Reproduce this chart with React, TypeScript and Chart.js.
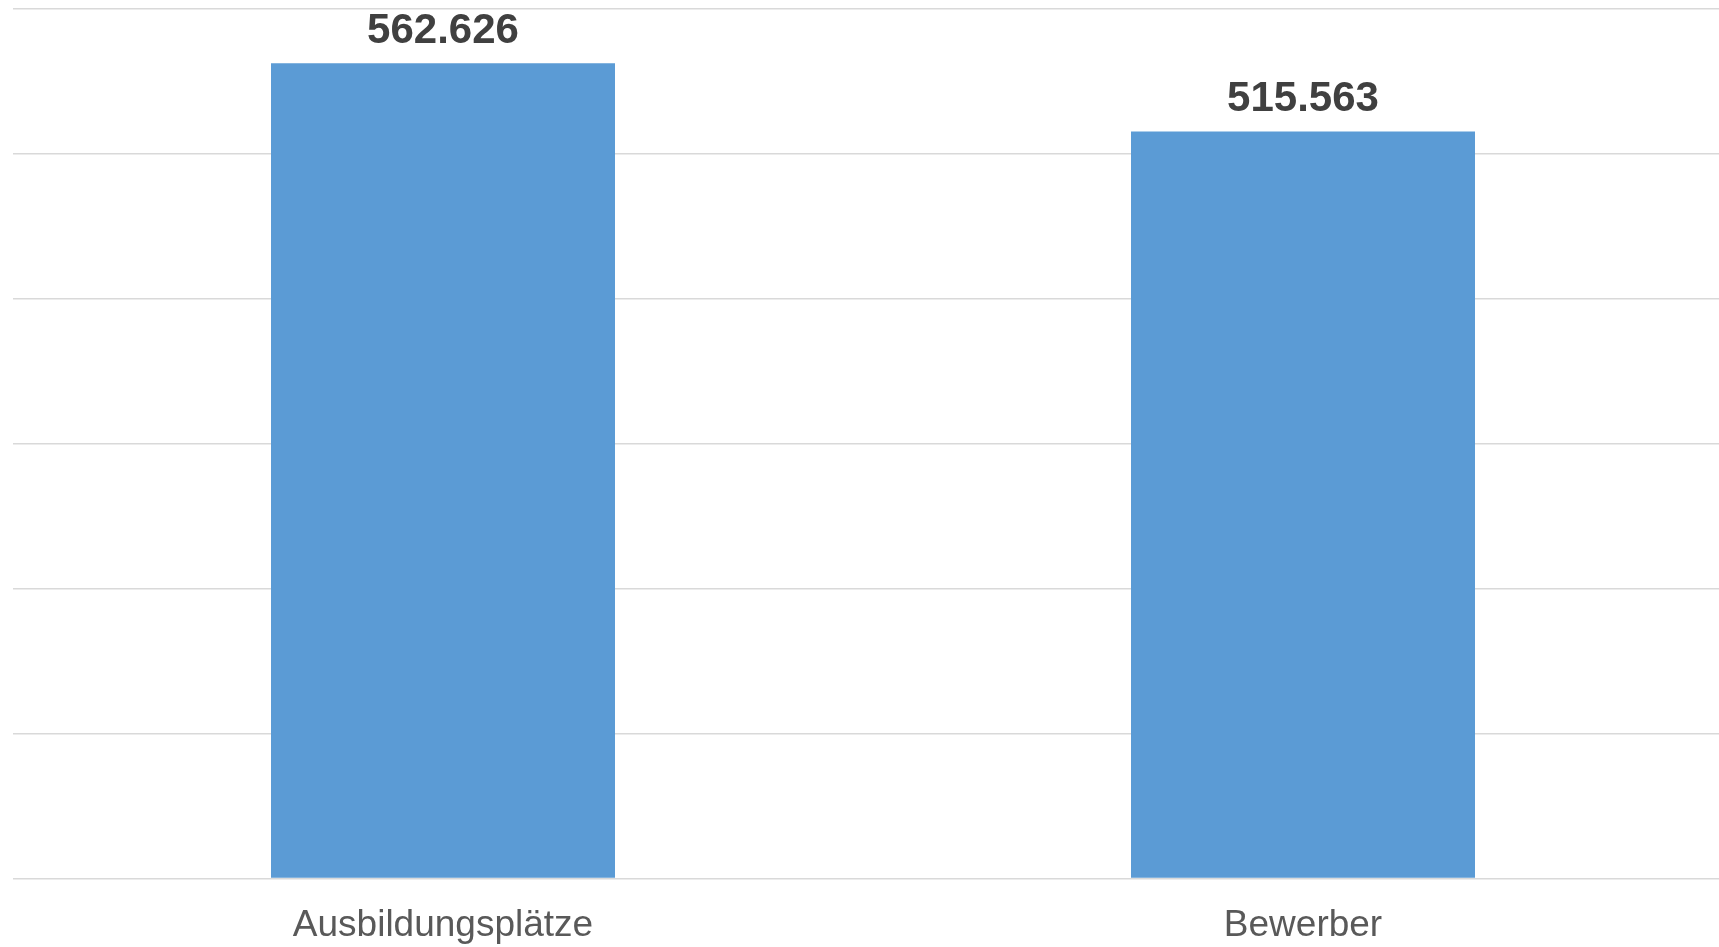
import React, { useEffect, useRef } from "react";
import { Chart, registerables } from "chart.js";

Chart.register(...registerables);

const categories = ["Ausbildungsplätze", "Bewerber"];
const values = [562626, 515563];
const yMax = 600000;
const yStep = 100000;

const fmt = (v: number) => String(Math.round(v)).replace(/\B(?=(\d{3})+(?!\d))/g, ".");

const valueLabels = {
  id: "valueLabels",
  afterDatasetsDraw(chart: any) {
    const ctx = chart.ctx;
    const meta = chart.getDatasetMeta(0);
    ctx.save();
    ctx.font = "bold 42px 'Liberation Sans', Arial, sans-serif";
    ctx.fillStyle = "#404040";
    ctx.textAlign = "center";
    ctx.textBaseline = "alphabetic";
    meta.data.forEach((el: any, i: number) => {
      ctx.fillText(fmt(values[i]), el.x, el.y - 20);
    });
    ctx.restore();
  },
};

export default function App() {
  const ref = useRef<HTMLCanvasElement>(null);
  useEffect(() => {
    const chart = new Chart(ref.current!, {
      type: "bar",
      data: {
        labels: categories,
        datasets: [
          {
            data: values,
            backgroundColor: "#5b9bd5",
            borderWidth: 0,
            categoryPercentage: 1,
            barPercentage: 0.4,
          },
        ],
      },
      options: {
        animation: false,
        responsive: false,
        maintainAspectRatio: false,
        layout: { padding: { top: 9, left: 13, right: 0, bottom: 0 } },
        plugins: { legend: { display: false }, tooltip: { enabled: false } },
        scales: {
          x: {
            grid: { display: false, drawTicks: false },
            border: { display: false },
            ticks: {
              color: "#595959",
              padding: 25,
              font: { family: "'Liberation Sans', Arial, sans-serif", size: 37 },
            },
          },
          y: {
            min: 0,
            max: yMax,
            grid: { color: "#d9d9d9", lineWidth: 1.5, drawTicks: false },
            border: { display: false },
            ticks: { display: false, stepSize: yStep },
          },
        },
      },
      plugins: [valueLabels],
    });
    return () => chart.destroy();
  }, []);
  return (
    <div style={{ position: "fixed", left: 0, top: 0, width: 1719, height: 947, overflow: "hidden", background: "#fff" }}>
      <canvas ref={ref} width={1733} height={973} style={{ display: "block" }} />
    </div>
  );
}
